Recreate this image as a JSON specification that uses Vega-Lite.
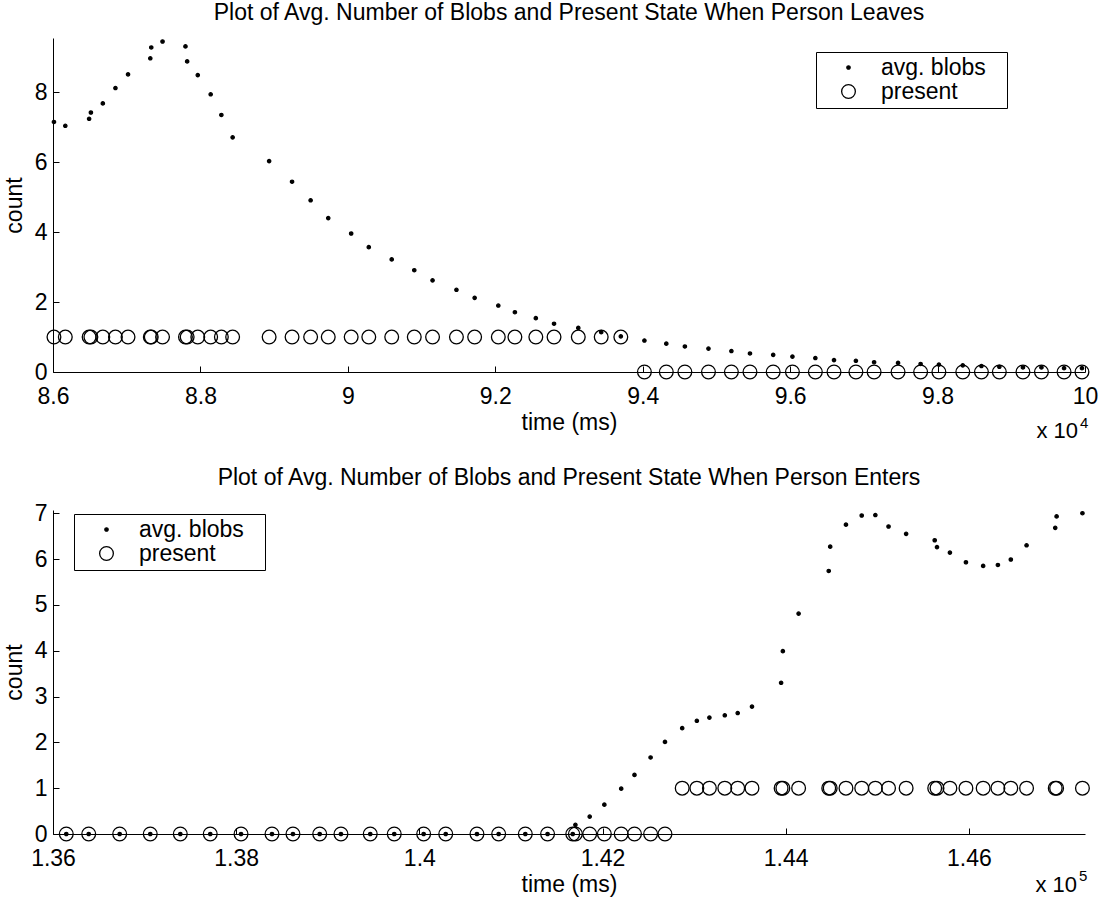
{
  "$schema": "https://vega.github.io/schema/vega-lite/v6.json",
  "background": "white",
  "padding": {"left": 3, "top": 2, "right": 4, "bottom": 4},
  "spacing": 25,
  "config": {
    "font": "Liberation Sans",
    "view": {"stroke": null},
    "axis": {"domainColor": "black", "domainWidth": 1, "tickColor": "black", "tickWidth": 1, "tickSize": -6, "labelColor": "black", "labelFontSize": 23, "titleFontSize": 23, "titleFontWeight": "normal", "titleColor": "black", "grid": false, "labelFlush": false, "labelOverlap": false},
    "axisX": {"labelPadding": 19, "titlePadding": 3},
    "axisY": {"labelPadding": 12, "titlePadding": 8},
    "title": {"fontSize": 23, "fontWeight": "normal", "color": "black", "anchor": "middle", "offset": 12},
    "legend": {"labelFontSize": 23, "labelColor": "black", "strokeColor": "black", "fillColor": "white", "padding": 4, "symbolOffset": 17, "labelOffset": 21, "rowPadding": 0, "symbolStrokeWidth": 1.3, "symbolStrokeColor": "black"}
  },
  "resolve": {
    "scale": {"x": "independent", "y": "independent", "fill": "independent", "stroke": "independent", "shape": "independent", "size": "independent"},
    "legend": {"fill": "independent", "stroke": "independent", "shape": "independent", "size": "independent"}
  },
  "vconcat": [
    {
      "width": 1032,
      "height": 334,
      "title": "Plot of Avg. Number of Blobs and Present State When Person Leaves",
      "layer": [
        {
          "data": {"values": [
            {"t":86013,"s":"present","v":1},{"t":86167,"s":"present","v":1},{"t":86490,"s":"present","v":1},{"t":86514,"s":"present","v":1},{"t":86676,"s":"present","v":1},{"t":86847,"s":"present","v":1},{"t":87018,"s":"present","v":1},{"t":87320,"s":"present","v":1},{"t":87333,"s":"present","v":1},{"t":87486,"s":"present","v":1},{"t":87797,"s":"present","v":1},{"t":87820,"s":"present","v":1},{"t":87964,"s":"present","v":1},{"t":88139,"s":"present","v":1},{"t":88284,"s":"present","v":1},{"t":88437,"s":"present","v":1},{"t":88932,"s":"present","v":1},{"t":89243,"s":"present","v":1},{"t":89495,"s":"present","v":1},{"t":89734,"s":"present","v":1},{"t":90045,"s":"present","v":1},{"t":90284,"s":"present","v":1},{"t":90595,"s":"present","v":1},{"t":90901,"s":"present","v":1},{"t":91149,"s":"present","v":1},{"t":91473,"s":"present","v":1},{"t":91720,"s":"present","v":1},{"t":92041,"s":"present","v":1},{"t":92266,"s":"present","v":1},{"t":92550,"s":"present","v":1},{"t":92797,"s":"present","v":1},{"t":93126,"s":"present","v":1},{"t":93437,"s":"present","v":1},{"t":93703,"s":"present","v":1},{"t":94023,"s":"present","v":0},{"t":94320,"s":"present","v":0},{"t":94572,"s":"present","v":0},{"t":94892,"s":"present","v":0},{"t":95203,"s":"present","v":0},{"t":95455,"s":"present","v":0},{"t":95770,"s":"present","v":0},{"t":96031,"s":"present","v":0},{"t":96342,"s":"present","v":0},{"t":96595,"s":"present","v":0},{"t":96892,"s":"present","v":0},{"t":97139,"s":"present","v":0},{"t":97464,"s":"present","v":0},{"t":97770,"s":"present","v":0},{"t":98018,"s":"present","v":0},{"t":98342,"s":"present","v":0},{"t":98595,"s":"present","v":0},{"t":98838,"s":"present","v":0},{"t":99158,"s":"present","v":0},{"t":99409,"s":"present","v":0},{"t":99716,"s":"present","v":0},{"t":99959,"s":"present","v":0},
            {"t":86013,"s":"avg. blobs","v":7.15},{"t":86167,"s":"avg. blobs","v":7.04},{"t":86490,"s":"avg. blobs","v":7.24},{"t":86514,"s":"avg. blobs","v":7.42},{"t":86676,"s":"avg. blobs","v":7.68},{"t":86847,"s":"avg. blobs","v":8.12},{"t":87018,"s":"avg. blobs","v":8.51},{"t":87320,"s":"avg. blobs","v":8.97},{"t":87333,"s":"avg. blobs","v":9.28},{"t":87486,"s":"avg. blobs","v":9.45},{"t":87797,"s":"avg. blobs","v":9.31},{"t":87820,"s":"avg. blobs","v":8.88},{"t":87964,"s":"avg. blobs","v":8.49},{"t":88139,"s":"avg. blobs","v":7.94},{"t":88284,"s":"avg. blobs","v":7.35},{"t":88437,"s":"avg. blobs","v":6.71},{"t":88932,"s":"avg. blobs","v":6.03},{"t":89243,"s":"avg. blobs","v":5.44},{"t":89495,"s":"avg. blobs","v":4.91},{"t":89734,"s":"avg. blobs","v":4.40},{"t":90045,"s":"avg. blobs","v":3.96},{"t":90284,"s":"avg. blobs","v":3.57},{"t":90595,"s":"avg. blobs","v":3.22},{"t":90901,"s":"avg. blobs","v":2.91},{"t":91149,"s":"avg. blobs","v":2.62},{"t":91473,"s":"avg. blobs","v":2.35},{"t":91720,"s":"avg. blobs","v":2.12},{"t":92041,"s":"avg. blobs","v":1.90},{"t":92266,"s":"avg. blobs","v":1.71},{"t":92550,"s":"avg. blobs","v":1.54},{"t":92797,"s":"avg. blobs","v":1.38},{"t":93126,"s":"avg. blobs","v":1.26},{"t":93437,"s":"avg. blobs","v":1.14},{"t":93703,"s":"avg. blobs","v":1.02},{"t":94023,"s":"avg. blobs","v":0.90},{"t":94320,"s":"avg. blobs","v":0.81},{"t":94572,"s":"avg. blobs","v":0.73},{"t":94892,"s":"avg. blobs","v":0.67},{"t":95203,"s":"avg. blobs","v":0.60},{"t":95455,"s":"avg. blobs","v":0.53},{"t":95770,"s":"avg. blobs","v":0.49},{"t":96031,"s":"avg. blobs","v":0.44},{"t":96342,"s":"avg. blobs","v":0.40},{"t":96595,"s":"avg. blobs","v":0.34},{"t":96892,"s":"avg. blobs","v":0.32},{"t":97139,"s":"avg. blobs","v":0.28},{"t":97464,"s":"avg. blobs","v":0.26},{"t":97770,"s":"avg. blobs","v":0.23},{"t":98018,"s":"avg. blobs","v":0.21},{"t":98342,"s":"avg. blobs","v":0.19},{"t":98595,"s":"avg. blobs","v":0.17},{"t":98838,"s":"avg. blobs","v":0.15},{"t":99158,"s":"avg. blobs","v":0.13},{"t":99409,"s":"avg. blobs","v":0.13},{"t":99716,"s":"avg. blobs","v":0.11},{"t":99959,"s":"avg. blobs","v":0.11}
          ]},
          "mark": {"type": "point", "strokeWidth": 1.3, "opacity": 1},
          "encoding": {
            "x": {"field": "t", "type": "quantitative", "scale": {"domain": [86000, 100000], "nice": false, "zero": false}, "axis": {"title": "time (ms)", "values": [86000, 88000, 90000, 92000, 94000, 96000, 98000, 100000], "labelExpr": "datum.value / 10000 + ''"}},
            "y": {"field": "v", "type": "quantitative", "scale": {"domain": [0, 9.55], "nice": false}, "axis": {"title": "count", "values": [0, 2, 4, 6, 8]}},
            "shape": {"field": "s", "type": "nominal", "scale": {"domain": ["avg. blobs", "present"], "range": ["circle", "circle"]}, "legend": {"title": null, "orient": "none", "legendX": 763, "legendY": 14, "labelExpr": "datum.label + '\u2800'"}},
            "size": {"field": "s", "type": "nominal", "scale": {"domain": ["avg. blobs", "present"], "range": [11, 188]}, "legend": {"title": null, "orient": "none", "legendX": 763, "legendY": 14, "labelExpr": "datum.label + '\u2800'"}},
            "fill": {"field": "s", "type": "nominal", "scale": {"domain": ["avg. blobs", "present"], "range": ["black", "transparent"]}, "legend": {"title": null, "orient": "none", "legendX": 763, "legendY": 14, "labelExpr": "datum.label + '\u2800'"}},
            "stroke": {"field": "s", "type": "nominal", "scale": {"domain": ["avg. blobs", "present"], "range": ["black", "black"]}, "legend": {"title": null, "orient": "none", "legendX": 763, "legendY": 14, "labelExpr": "datum.label + '\u2800'"}}
          }
        },
        {
          "data": {"values": [{"lab": "x 10"}]},
          "mark": {"type": "text", "align": "right", "baseline": "alphabetic", "fontSize": 22, "dx": -7, "dy": 66, "color": "black"},
          "encoding": {
            "x": {"datum": 100000, "type": "quantitative"},
            "y": {"datum": 0, "type": "quantitative"},
            "text": {"field": "lab"}
          }
        },
        {
          "data": {"values": [{"lab": "4"}]},
          "mark": {"type": "text", "align": "left", "baseline": "alphabetic", "fontSize": 15, "dx": -5, "dy": 56, "color": "black"},
          "encoding": {
            "x": {"datum": 100000, "type": "quantitative"},
            "y": {"datum": 0, "type": "quantitative"},
            "text": {"field": "lab"}
          }
        }
      ]
    },
    {
      "width": 1032,
      "height": 324,
      "title": "Plot of Avg. Number of Blobs and Present State When Person Enters",
      "layer": [
        {
          "data": {"values": [
            {"t":136145,"s":"present","v":0},{"t":136390,"s":"present","v":0},{"t":136728,"s":"present","v":0},{"t":137062,"s":"present","v":0},{"t":137390,"s":"present","v":0},{"t":137717,"s":"present","v":0},{"t":138053,"s":"present","v":0},{"t":138391,"s":"present","v":0},{"t":138620,"s":"present","v":0},{"t":138912,"s":"present","v":0},{"t":139144,"s":"present","v":0},{"t":139464,"s":"present","v":0},{"t":139726,"s":"present","v":0},{"t":140047,"s":"present","v":0},{"t":140288,"s":"present","v":0},{"t":140629,"s":"present","v":0},{"t":140866,"s":"present","v":0},{"t":141157,"s":"present","v":0},{"t":141400,"s":"present","v":0},{"t":141675,"s":"present","v":0},
            {"t":141704,"s":"present","v":0},{"t":141860,"s":"present","v":0},{"t":142020,"s":"present","v":0},{"t":142204,"s":"present","v":0},{"t":142349,"s":"present","v":0},{"t":142525,"s":"present","v":0},{"t":142682,"s":"present","v":0},{"t":142870,"s":"present","v":1},{"t":143030,"s":"present","v":1},{"t":143167,"s":"present","v":1},{"t":143335,"s":"present","v":1},{"t":143476,"s":"present","v":1},{"t":143632,"s":"present","v":1},{"t":143950,"s":"present","v":1},{"t":143969,"s":"present","v":1},{"t":144141,"s":"present","v":1},{"t":144470,"s":"present","v":1},{"t":144486,"s":"present","v":1},{"t":144658,"s":"present","v":1},{"t":144830,"s":"present","v":1},{"t":144979,"s":"present","v":1},{"t":145123,"s":"present","v":1},{"t":145315,"s":"present","v":1},{"t":145627,"s":"present","v":1},{"t":145652,"s":"present","v":1},{"t":145793,"s":"present","v":1},{"t":145968,"s":"present","v":1},{"t":146156,"s":"present","v":1},{"t":146317,"s":"present","v":1},{"t":146458,"s":"present","v":1},{"t":146630,"s":"present","v":1},{"t":146943,"s":"present","v":1},{"t":146958,"s":"present","v":1},{"t":147240,"s":"present","v":1},
            {"t":136145,"s":"avg. blobs","v":0},{"t":136390,"s":"avg. blobs","v":0},{"t":136728,"s":"avg. blobs","v":0},{"t":137062,"s":"avg. blobs","v":0},{"t":137390,"s":"avg. blobs","v":0},{"t":137717,"s":"avg. blobs","v":0},{"t":138053,"s":"avg. blobs","v":0},{"t":138391,"s":"avg. blobs","v":0},{"t":138620,"s":"avg. blobs","v":0},{"t":138912,"s":"avg. blobs","v":0},{"t":139144,"s":"avg. blobs","v":0},{"t":139464,"s":"avg. blobs","v":0},{"t":139726,"s":"avg. blobs","v":0},{"t":140047,"s":"avg. blobs","v":0},{"t":140288,"s":"avg. blobs","v":0},{"t":140629,"s":"avg. blobs","v":0},{"t":140866,"s":"avg. blobs","v":0},{"t":141157,"s":"avg. blobs","v":0},{"t":141400,"s":"avg. blobs","v":0},{"t":141675,"s":"avg. blobs","v":0},
            {"t":141704,"s":"avg. blobs","v":0.20},{"t":141860,"s":"avg. blobs","v":0.38},{"t":142020,"s":"avg. blobs","v":0.64},{"t":142204,"s":"avg. blobs","v":0.99},{"t":142349,"s":"avg. blobs","v":1.29},{"t":142525,"s":"avg. blobs","v":1.67},{"t":142682,"s":"avg. blobs","v":2.01},{"t":142870,"s":"avg. blobs","v":2.31},{"t":143030,"s":"avg. blobs","v":2.47},{"t":143167,"s":"avg. blobs","v":2.54},{"t":143335,"s":"avg. blobs","v":2.59},{"t":143476,"s":"avg. blobs","v":2.64},{"t":143632,"s":"avg. blobs","v":2.78},{"t":143950,"s":"avg. blobs","v":3.30},{"t":143969,"s":"avg. blobs","v":3.99},{"t":144141,"s":"avg. blobs","v":4.81},{"t":144470,"s":"avg. blobs","v":5.74},{"t":144486,"s":"avg. blobs","v":6.27},{"t":144658,"s":"avg. blobs","v":6.75},{"t":144830,"s":"avg. blobs","v":6.95},{"t":144979,"s":"avg. blobs","v":6.96},{"t":145123,"s":"avg. blobs","v":6.71},{"t":145315,"s":"avg. blobs","v":6.55},{"t":145627,"s":"avg. blobs","v":6.41},{"t":145652,"s":"avg. blobs","v":6.26},{"t":145793,"s":"avg. blobs","v":6.14},{"t":145968,"s":"avg. blobs","v":5.93},{"t":146156,"s":"avg. blobs","v":5.85},{"t":146317,"s":"avg. blobs","v":5.87},{"t":146458,"s":"avg. blobs","v":5.99},{"t":146630,"s":"avg. blobs","v":6.30},{"t":146943,"s":"avg. blobs","v":6.68},{"t":146958,"s":"avg. blobs","v":6.93},{"t":147240,"s":"avg. blobs","v":7.00}
          ]},
          "mark": {"type": "point", "strokeWidth": 1.3, "opacity": 1},
          "encoding": {
            "x": {"field": "t", "type": "quantitative", "scale": {"domain": [136000, 147268], "nice": false, "zero": false}, "axis": {"title": "time (ms)", "values": [136000, 138000, 140000, 142000, 144000, 146000], "labelExpr": "datum.value / 100000 + ''"}},
            "y": {"field": "v", "type": "quantitative", "scale": {"domain": [0, 7.07], "nice": false}, "axis": {"title": "count", "values": [0, 1, 2, 3, 4, 5, 6, 7]}},
            "shape": {"field": "s", "type": "nominal", "scale": {"domain": ["avg. blobs", "present"], "range": ["circle", "circle"]}, "legend": {"title": null, "orient": "none", "legendX": 21, "legendY": 4, "labelExpr": "datum.label + '\u2800'"}},
            "size": {"field": "s", "type": "nominal", "scale": {"domain": ["avg. blobs", "present"], "range": [11, 188]}, "legend": {"title": null, "orient": "none", "legendX": 21, "legendY": 4, "labelExpr": "datum.label + '\u2800'"}},
            "fill": {"field": "s", "type": "nominal", "scale": {"domain": ["avg. blobs", "present"], "range": ["black", "transparent"]}, "legend": {"title": null, "orient": "none", "legendX": 21, "legendY": 4, "labelExpr": "datum.label + '\u2800'"}},
            "stroke": {"field": "s", "type": "nominal", "scale": {"domain": ["avg. blobs", "present"], "range": ["black", "black"]}, "legend": {"title": null, "orient": "none", "legendX": 21, "legendY": 4, "labelExpr": "datum.label + '\u2800'"}}
          }
        },
        {
          "data": {"values": [{"lab": "x 10"}]},
          "mark": {"type": "text", "align": "right", "baseline": "alphabetic", "fontSize": 22, "dx": -8, "dy": 58, "color": "black"},
          "encoding": {
            "x": {"datum": 147268, "type": "quantitative"},
            "y": {"datum": 0, "type": "quantitative"},
            "text": {"field": "lab"}
          }
        },
        {
          "data": {"values": [{"lab": "5"}]},
          "mark": {"type": "text", "align": "left", "baseline": "alphabetic", "fontSize": 15, "dx": -6, "dy": 47, "color": "black"},
          "encoding": {
            "x": {"datum": 147268, "type": "quantitative"},
            "y": {"datum": 0, "type": "quantitative"},
            "text": {"field": "lab"}
          }
        }
      ]
    }
  ]
}
